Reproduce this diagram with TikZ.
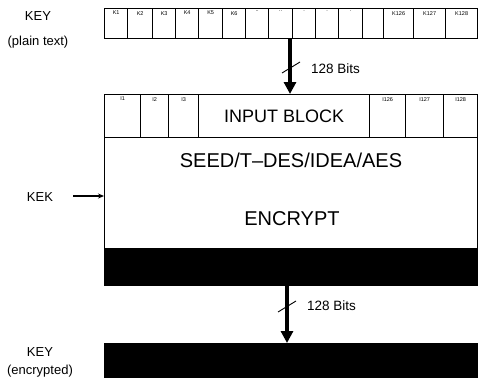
\documentclass[tikz,border=0pt]{standalone}
\usepackage{fontspec}
\setmainfont{Liberation Sans}
\usetikzlibrary{arrows.meta,positioning,calc}
\tikzset{
  cellbox/.style={draw,line width=1.3pt,inner sep=0pt,anchor=north west},
  celltxt/.style={font=\fontsize{5.5}{6}\selectfont,inner sep=3pt,below},
  bigtxt/.style={font=\fontsize{20}{24}\selectfont},
  sidetxt/.style={font=\fontsize{13}{15}\selectfont},
  bitstxt/.style={font=\fontsize{13.5}{15}\selectfont,right,inner sep=0pt},
  ar/.style={-{Triangle[length=12pt,width=12pt]},line width=3.5pt},
  slash/.style={line width=0.9pt},
  band/.style={fill=black,draw=black,inner sep=0pt,anchor=north west}
}
\begin{document}
\begin{tikzpicture}[x=1pt,y=-1pt]
\useasboundingbox (0,0) rectangle (478,380);
% key row (plain text)
\foreach \n/\xa/\xb/\t in {1/104/127/K1,2/127/152/K2,3/152/175/K3,4/175/198/K4,
  5/198/222/K5,6/222/245/K6,7/245/268/{..},8/268/292/{..},
  9/292/315/{.},10/315/338/{.},11/338/362/{.},12/362/383/{},
  13/383/413/K126,14/413/445/K127,15/445/477/K128}{
  \node[cellbox,minimum width=\xb-\xa,minimum height=30] (k\n) at (\xa,8) {};
  \node[celltxt] at (k\n.north) {\t};
}
\node[sidetxt] (keyp) at (38,16) {KEY};
\node[sidetxt] (plain) at (38,42) {(plain text)};
% encryption box
\node[cellbox,minimum width=373,minimum height=191] (main) at (104,94) {};
\node[band,minimum width=373,minimum height=37] (mband) at (104,248) {};
\foreach \n/\xa/\xb/\t in {1/104/140/I1,2/140/168/I2,3/168/198/I3,
  5/369/405/I126,6/405/443/I127,7/443/477/I128}{
  \node[cellbox,minimum width=\xb-\xa,minimum height=43] (i\n) at (\xa,94) {};
  \node[celltxt] at (i\n.north) {\t};
}
\node[cellbox,minimum width=171,minimum height=43,
  font=\fontsize{18}{20}\selectfont] (inblk) at (198,94) {INPUT BLOCK};
\node[bigtxt] (algo) at (291,160) {SEED/T--DES/IDEA/AES};
\node[bigtxt] (encr) at (292,219) {ENCRYPT};
\node[sidetxt] (kek) at (40,197) {KEK};
\coordinate (kekin) at (73,196);
\draw[-{Stealth[length=6pt,width=5pt]},line width=1.6pt] (kekin) -- (kekin -| main.west);
% encrypted key
\node[band,minimum width=373,minimum height=34] (enckey) at (104,343) {};
\node[sidetxt] (keye) at (40,352) {KEY};
\node[sidetxt] (encd) at (40,371) {(encrypted)};
% 128 bit links
\coordinate (topout) at (290,38);
\draw[ar] (topout) -- (topout |- main.north);
\coordinate (tops) at (291,67);
\draw[slash] ($(tops)+(-9,6)$) -- ($(tops)+(9,-5)$);
\node[bitstxt] at (311,69) {128 Bits};
\coordinate (botout) at (287,285);
\draw[ar] (botout) -- (botout |- enckey.north);
\coordinate (bots) at (287,306);
\draw[slash] ($(bots)+(-9,6)$) -- ($(bots)+(9,-5)$);
\node[bitstxt] at (307,306) {128 Bits};
\end{tikzpicture}
\end{document}
